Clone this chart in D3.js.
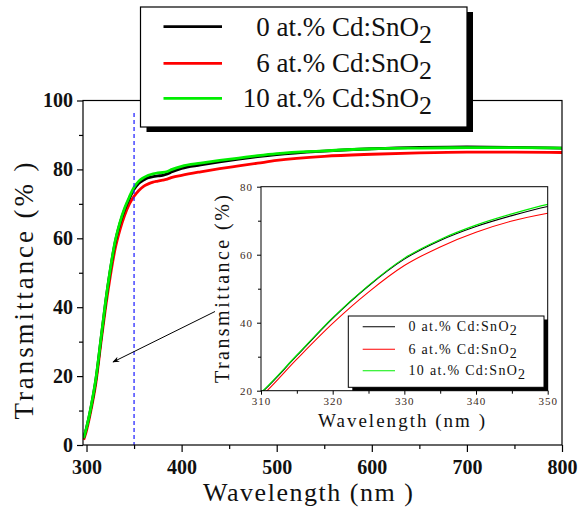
<!DOCTYPE html>
<html><head><meta charset="utf-8">
<script src="https://cdn.jsdelivr.net/npm/d3@7"></script>
<style>body{margin:0;background:#fff} svg{display:block}</style>
</head><body><svg id="c" width="580" height="512"></svg>
<script>
const wavelengths = [297,300,305,310,315,320,325,330,335,340,345,350,355,360,365,370,375,380,385,390,400,420,440,460,480,500,550,600,650,700,750,800];
const t0  = [2.0,5.0,11.3,19.3,30.3,41.3,50.8,58.7,64.2,68.3,71.5,74.2,76.0,76.9,77.6,77.9,78.1,78.3,78.7,79.3,80.3,81.3,82.2,83.0,83.7,84.3,85.3,86.0,86.4,86.5,86.4,86.2];
const t6  = [1.5,4.2,10.5,18.3,29.3,39.8,49.0,56.8,62.3,66.6,69.9,72.2,73.9,75.1,75.8,76.3,76.6,76.9,77.2,77.7,78.3,79.3,80.2,81.0,81.8,82.6,83.8,84.4,84.8,85.0,85.0,84.9];
const t10 = [2.0,5.0,11.5,19.5,30.5,41.5,51.0,59.0,64.5,68.7,72.0,74.8,76.6,77.6,78.3,78.7,79.0,79.1,79.4,80.0,80.9,81.8,82.6,83.3,84.0,84.6,85.4,86.0,86.2,86.3,86.3,86.2];
const seriesLabels = ["0 at.% Cd:SnO", "6 at.% Cd:SnO", "10 at.% Cd:SnO"];
const seriesColors = ["#000000", "#ff0000", "#00ee00"];
const xTicksMain = [300,400,500,600,700,800];
const xMinorMain = [350,450,550,650,750];
const yTicksMain = [0,20,40,60,80,100];
const yMinorMain = [10,30,50,70,90];
const xTicksInset = [310,320,330,340,350];
const xMinorInset = [315,325,335,345];
const yTicksInset = [20,40,60,80];
const yMinorInset = [30,50,70];
const markerWavelength = 350;

const series = [
  {label: seriesLabels[0], color: seriesColors[0], values: t0},
  {label: seriesLabels[1], color: seriesColors[1], values: t6},
  {label: seriesLabels[2], color: seriesColors[2], values: t10}
];
const drawOrder = [1, 0, 2];
const serif = "'Liberation Serif', Tinos, 'Times New Roman', 'DejaVu Serif', serif";

const svg = d3.select("#c");
const defs = svg.append("defs");

// ---------- main plot ----------
const M = {l: 83, r: 562, t: 100.5, b: 445};
const x = d3.scaleLinear().domain([296.3, 800]).range([M.l, M.r]);
const y = d3.scaleLinear().domain([0, 100]).range([M.b, M.t]);

defs.append("clipPath").attr("id", "clipMain").append("rect")
  .attr("x", M.l).attr("y", M.t).attr("width", M.r - M.l).attr("height", M.b - M.t);

const line = d3.line().x((d, i) => x(wavelengths[i])).y(d => y(d)).curve(d3.curveMonotoneX);

const gMain = svg.append("g").attr("clip-path", "url(#clipMain)");
drawOrder.forEach(k => {
  gMain.append("path").attr("d", line(series[k].values))
    .attr("fill", "none").attr("stroke", series[k].color).attr("stroke-width", 2.8);
});

// dashed marker
svg.append("line").attr("x1", x(markerWavelength)).attr("x2", x(markerWavelength))
  .attr("y1", 113).attr("y2", M.b)
  .attr("stroke", "#2a2aff").attr("stroke-width", 1.3).attr("stroke-dasharray", "4,3");

// frame
svg.append("rect").attr("x", M.l).attr("y", M.t).attr("width", M.r - M.l).attr("height", M.b - M.t)
  .attr("fill", "none").attr("stroke", "#000").attr("stroke-width", 1.2);

const axB = svg.append("g").attr("transform", `translate(0,${M.b})`)
  .call(d3.axisBottom(x).tickValues(xTicksMain).tickSize(7).tickPadding(4).tickFormat(d3.format("d")));
const axBm = svg.append("g").attr("transform", `translate(0,${M.b})`)
  .call(d3.axisBottom(x).tickValues(xMinorMain).tickSize(4).tickFormat(""));
const axL = svg.append("g").attr("transform", `translate(${M.l},0)`)
  .call(d3.axisLeft(y).tickValues(yTicksMain).tickSize(6).tickPadding(4).tickFormat(d3.format("d")));
const axLm = svg.append("g").attr("transform", `translate(${M.l},0)`)
  .call(d3.axisLeft(y).tickValues(yMinorMain).tickSize(4).tickFormat(""));
[axB, axBm, axL, axLm].forEach(g => {
  g.select(".domain").remove();
  g.selectAll("line").attr("stroke", "#000").attr("stroke-width", 1.2);
  g.selectAll("text").attr("font-family", serif).attr("font-weight", "bold")
    .attr("font-size", 20).attr("fill", "#111");
});
axB.selectAll("text").attr("dy", "0.9em");

svg.append("text").attr("x", 203).attr("y", 501).attr("font-family", serif)
  .attr("font-size", 26).attr("textLength", 210).attr("lengthAdjust", "spacing")
  .attr("fill", "#111").text("Wavelength (nm )");
svg.append("text").attr("transform", "translate(33,291) rotate(-90)").attr("text-anchor", "middle")
  .attr("font-family", serif).attr("font-size", 27).attr("textLength", 257).attr("lengthAdjust", "spacing")
  .attr("fill", "#111").text("Transmittance (% )");

// main legend
const L = {x: 140.5, y: 7, w: 326.5, h: 120};
svg.append("rect").attr("x", L.x + 6).attr("y", L.y + 5).attr("width", L.w).attr("height", L.h).attr("fill", "#000");
svg.append("rect").attr("x", L.x).attr("y", L.y).attr("width", L.w).attr("height", L.h)
  .attr("fill", "#fff").attr("stroke", "#000").attr("stroke-width", 1.2);
const legRows = [26.7, 63.3, 98.3];
series.forEach((s, i) => {
  svg.append("line").attr("x1", 163.5).attr("x2", 222).attr("y1", legRows[i]).attr("y2", legRows[i])
    .attr("stroke", s.color).attr("stroke-width", 2.8);
  const t = svg.append("text").attr("x", 432).attr("y", legRows[i] + 9).attr("text-anchor", "end")
    .attr("font-family", serif).attr("font-size", 27).attr("fill", "#111");
  t.append("tspan").text(s.label);
  t.append("tspan").attr("dy", 7).attr("font-size", 26).text("2");
});

// arrow
defs.append("marker").attr("id", "arr").attr("viewBox", "0 0 10 10").attr("refX", 9).attr("refY", 5)
  .attr("markerWidth", 7).attr("markerHeight", 7).attr("orient", "auto")
  .append("path").attr("d", "M0,1 L10,5 L0,9 L3,5 Z").attr("fill", "#000");
svg.append("line").attr("x1", 215).attr("y1", 311.5).attr("x2", 113).attr("y2", 362)
  .attr("stroke", "#000").attr("stroke-width", 1).attr("marker-end", "url(#arr)");

// ---------- inset ----------
const I = {l: 261, r: 547.7, t: 186.7, b: 390.7};
const xi = d3.scaleLinear().domain([310, 350]).range([I.l, I.r]);
const yi = d3.scaleLinear().domain([20, 80]).range([I.b, I.t]);
svg.append("rect").attr("x", I.l).attr("y", I.t).attr("width", I.r - I.l).attr("height", I.b - I.t).attr("fill", "#fff");
defs.append("clipPath").attr("id", "clipIn").append("rect")
  .attr("x", I.l).attr("y", I.t).attr("width", I.r - I.l).attr("height", I.b - I.t);
const lineI = d3.line().x((d, i) => xi(wavelengths[i])).y(d => yi(d)).curve(d3.curveMonotoneX);
const gIn = svg.append("g").attr("clip-path", "url(#clipIn)");
drawOrder.forEach(k => {
  gIn.append("path").attr("d", lineI(series[k].values))
    .attr("fill", "none").attr("stroke", series[k].color).attr("stroke-width", 1.1);
});
svg.append("rect").attr("x", I.l).attr("y", I.t).attr("width", I.r - I.l).attr("height", I.b - I.t)
  .attr("fill", "none").attr("stroke", "#000").attr("stroke-width", 1);

const iB = svg.append("g").attr("transform", `translate(0,${I.b})`)
  .call(d3.axisBottom(xi).tickValues(xTicksInset).tickSize(4).tickPadding(3).tickFormat(d3.format("d")));
const iBm = svg.append("g").attr("transform", `translate(0,${I.b})`)
  .call(d3.axisBottom(xi).tickValues(xMinorInset).tickSize(3).tickFormat(""));
const iL = svg.append("g").attr("transform", `translate(${I.l},0)`)
  .call(d3.axisLeft(yi).tickValues(yTicksInset).tickSize(4).tickPadding(4).tickFormat(d3.format("d")));
const iLm = svg.append("g").attr("transform", `translate(${I.l},0)`)
  .call(d3.axisLeft(yi).tickValues(yMinorInset).tickSize(3).tickFormat(""));
[iB, iBm, iL, iLm].forEach(g => {
  g.select(".domain").remove();
  g.selectAll("line").attr("stroke", "#000").attr("stroke-width", 1);
  g.selectAll("text").attr("font-family", serif).attr("font-size", 11).attr("fill", "#3a2a1a")
    .attr("letter-spacing", 1);
});

svg.append("text").attr("x", 318).attr("y", 427).attr("font-family", serif)
  .attr("font-size", 19).attr("textLength", 167).attr("lengthAdjust", "spacing")
  .attr("fill", "#111").text("Wavelength (nm )");
svg.append("text").attr("transform", "translate(229,289) rotate(-90)").attr("text-anchor", "middle")
  .attr("font-family", serif).attr("font-size", 20).attr("textLength", 188).attr("lengthAdjust", "spacing")
  .attr("fill", "#111").text("Transmittance (%)");

// inset legend
const IL = {x: 348.3, y: 316, w: 195.7, h: 71.3};
svg.append("rect").attr("x", IL.x + 4).attr("y", IL.y + 3.5).attr("width", IL.w).attr("height", IL.h).attr("fill", "#000");
svg.append("rect").attr("x", IL.x).attr("y", IL.y).attr("width", IL.w).attr("height", IL.h)
  .attr("fill", "#fff").attr("stroke", "#000").attr("stroke-width", 1);
const ilRows = [326.7, 349.3, 370.7];
series.forEach((s, i) => {
  svg.append("line").attr("x1", 362.7).attr("x2", 395).attr("y1", ilRows[i]).attr("y2", ilRows[i])
    .attr("stroke", s.color).attr("stroke-width", 1.1);
  const t = svg.append("text").attr("x", 408.5).attr("y", ilRows[i] + 4.5)
    .attr("font-family", serif).attr("font-size", 14).attr("fill", "#111")
    .attr("letter-spacing", 1.3);
  t.append("tspan").text(s.label);
  t.append("tspan").attr("dy", 4).attr("font-size", 14).text("2");
});
</script></body></html>
